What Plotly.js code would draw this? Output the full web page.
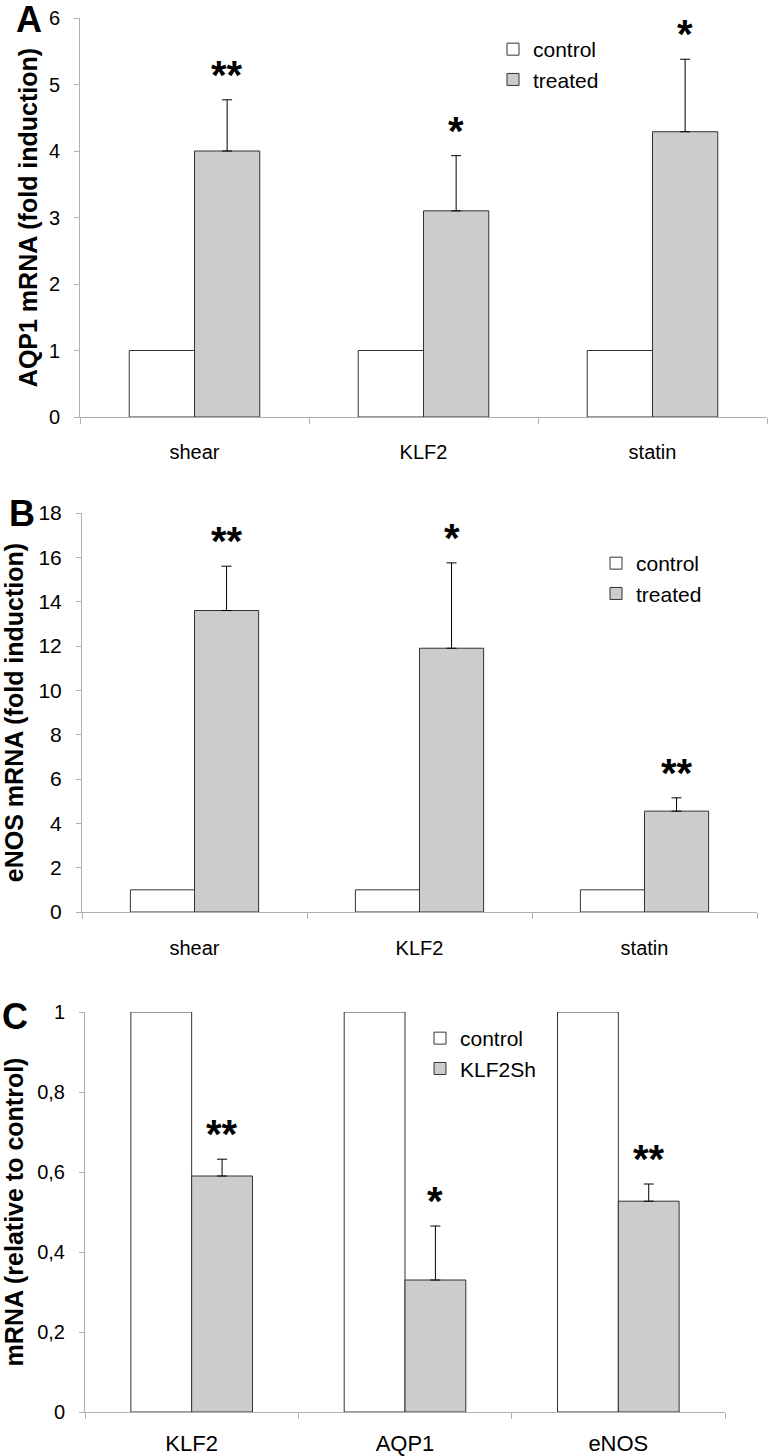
<!DOCTYPE html>
<html>
<head>
<meta charset="utf-8">
<script src="https://cdn.plot.ly/plotly-3.0.1.min.js"></script>
<style>html,body{margin:0;padding:0;background:#fff;}#chart{width:768px;height:1456px;}</style>
</head>
<body>
<div id="chart"></div>
<script>
// ---- Data ----
const catsAB = ['shear', 'KLF2', 'statin'];
const catsC = ['KLF2', 'AQP1', 'eNOS'];

const aControl = [1, 1, 1];
const aTreated = [4.0, 3.1, 4.29];
const aErr = [0.77, 0.83, 1.09];
const aStars = ['**', '*', '*'];

const bControl = [1, 1, 1];
const bTreated = [13.6, 11.9, 4.55];
const bErr = [2.0, 3.85, 0.6];
const bStars = ['**', '*', '**'];

const cControl = [1, 1, 1];
const cTreated = [0.59, 0.33, 0.527];
const cErr = [0.042, 0.135, 0.043];
const cStars = ['**', '*', '**'];

const legendNamesAB = ['control', 'treated'];
const legendNamesC = ['control', 'KLF2Sh'];
const panelLabels = ['A', 'B', 'C'];
const yTitles = ['AQP1 mRNA (fold induction)', 'eNOS mRNA (fold induction)', 'mRNA (relative to control)'];

// ---- Styles ----
const W = 768, H = 1456;
const REG = 'Liberation Sans, Arial, sans-serif';
const NAR = 'Liberation Sans Narrow, Arial Narrow, Liberation Sans, sans-serif';
const BOLD = 'Liberation Sans, Arial, sans-serif';
const lineCol = '#333333';
const axisCol = '#b0b0b0';
const grayFill = '#cccccc';
const bargap = 0.43;

function pyDom(top, bottom) { return [1 - bottom / H, 1 - top / H]; }
function pxDom(l, r) { return [l / W, r / W]; }

const panels = [
  {cats: catsAB, ctrl: aControl, trt: aTreated, err: aErr, stars: aStars, names: legendNamesAB,
   xd: pxDom(80, 767), yd: pyDom(18, 417), range: [0, 6], dtick: 1,
   yfont: {family: REG, size: 20}, xfont: {family: NAR, size: 20}, xstand: 17, tstand: 4,
   legend: {x: 493 / W, y: 1 - 29 / H}},
  {cats: catsAB, ctrl: bControl, trt: bTreated, err: bErr, stars: bStars, names: legendNamesAB,
   xd: pxDom(82, 757), yd: pyDom(513, 912), range: [0, 18], dtick: 2,
   yfont: {family: NAR, size: 21}, xfont: {family: NAR, size: 20}, xstand: 18, tstand: 12,
   legend: {x: 596 / W, y: 1 - 543 / H}},
  {cats: catsC, ctrl: cControl, trt: cTreated, err: cErr, stars: cStars, names: legendNamesC,
   xd: pxDom(85, 725), yd: pyDom(1012, 1412), range: [0, 1], dtick: 0.2,
   yfont: {family: REG, size: 20}, xfont: {family: NAR, size: 22}, xstand: 12, tstand: 21,
   legend: {x: 420 / W, y: 1 - 1018 / H}}
];

const data = [];
const layout = {
  width: W, height: H,
  margin: {l: 0, r: 0, t: 0, b: 0},
  paper_bgcolor: '#ffffff', plot_bgcolor: '#ffffff',
  barmode: 'group', bargap: bargap, bargroupgap: 0,
  separators: ',.',
  showlegend: true,
  font: {family: REG, color: '#000000'},
  annotations: []
};

panels.forEach((p, i) => {
  const n = i === 0 ? '' : String(i + 1);
  const xa = 'x' + n, ya = 'y' + n;
  const lg = 'legend' + n;
  data.push({
    type: 'bar', x: p.cats, y: p.ctrl, name: p.names[0], xaxis: xa, yaxis: ya, legend: lg,
    marker: {color: '#ffffff', line: {color: lineCol, width: 1}}, hoverinfo: 'y'
  });
  data.push({
    type: 'bar', x: p.cats, y: p.trt, name: p.names[1], xaxis: xa, yaxis: ya, legend: lg,
    marker: {color: grayFill, line: {color: lineCol, width: 1}},
    error_y: {type: 'data', symmetric: false, array: p.err, arrayminus: p.err.map(() => 0),
              color: '#000000', thickness: 1, width: 5},
    hoverinfo: 'y'
  });
  layout['xaxis' + n] = {
    domain: p.xd, anchor: ya, type: 'category', tickson: 'boundaries',
    showline: true, linecolor: axisCol, linewidth: 1,
    ticks: 'outside', ticklen: 6, tickcolor: axisCol, tickwidth: 1,
    showgrid: false, zeroline: false, fixedrange: true,
    tickfont: Object.assign({color: '#000'}, p.xfont), ticklabelstandoff: p.xstand
  };
  layout['yaxis' + n] = {
    domain: p.yd, anchor: xa, range: p.range, dtick: p.dtick, tick0: 0,
    showline: true, linecolor: axisCol, linewidth: 1,
    ticks: 'outside', ticklen: 5, tickcolor: axisCol, tickwidth: 1,
    showgrid: false, zeroline: false, fixedrange: true,
    tickfont: Object.assign({color: '#000'}, p.yfont), ticklabelstandoff: 10,
    title: {text: yTitles[i], font: {family: BOLD, size: 25, weight: 'bold', color: '#000'}, standoff: p.tstand}
  };
  layout[lg] = {
    x: p.legend.x, y: p.legend.y, xanchor: 'left', yanchor: 'top',
    bgcolor: 'rgba(0,0,0,0)', borderwidth: 0, traceorder: 'normal',
    font: {family: REG, size: 21, color: '#000'}, itemclick: false, itemdoubleclick: false
  };
  // significance stars above the error bars of the treated bars
  const plotW = (p.xd[1] - p.xd[0]) * W;
  const barOffset = plotW / p.cats.length * (1 - bargap) / 4;
  p.cats.forEach((c, k) => {
    layout.annotations.push({
      xref: xa, yref: ya, x: c, y: p.trt[k] + p.err[k], text: p.stars[k],
      showarrow: false, xanchor: 'center', yanchor: 'bottom', xshift: barOffset, yshift: 1,
      font: {family: BOLD, size: 40, weight: 'bold', color: '#000'}
    });
  });
  // panel letter
  const labelPos = [[14, -3], [7, 491], [0, 994]][i];
  layout.annotations.push({
    xref: 'paper', yref: 'paper', x: labelPos[0] / W, y: 1 - labelPos[1] / H,
    xanchor: 'left', yanchor: 'top', showarrow: false, text: panelLabels[i],
    font: {family: BOLD, size: 36, weight: 'bold', color: '#000'}
  });
});

Plotly.newPlot('chart', data, layout, {displayModeBar: false, staticPlot: true});
</script>
</body>
</html>
